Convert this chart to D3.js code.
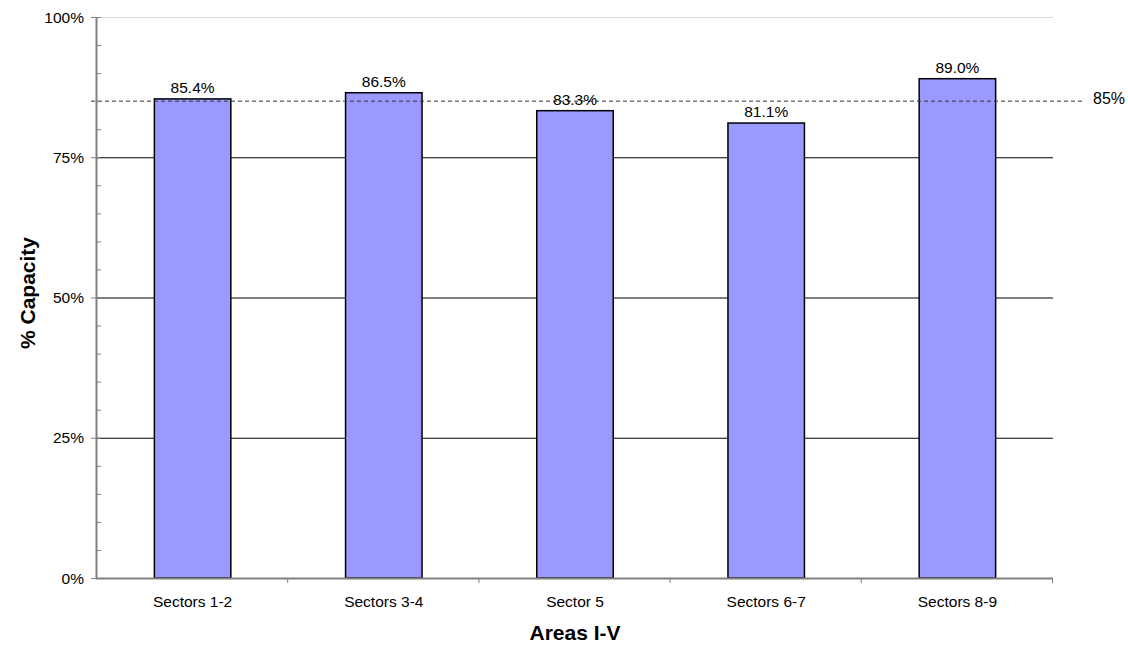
<!DOCTYPE html>
<html>
<head>
<meta charset="utf-8">
<script src="https://cdn.jsdelivr.net/npm/d3@7"></script>
<style>
  html, body { margin: 0; padding: 0; background: #fff; }
  svg { display: block; font-family: "Liberation Sans", Arial, sans-serif; }
</style>
</head>
<body>
<svg id="chart" width="1128" height="646"></svg>
<script>
// Capacity utilisation by sector group
const categories = ["Sectors 1-2", "Sectors 3-4", "Sector 5", "Sectors 6-7", "Sectors 8-9"];
const capacity = [85.4, 86.5, 83.3, 81.1, 89.0];
const majorTicks = [0, 25, 50, 75, 100];
const minorTicks = d3.range(0, 101, 5);
const targetLevel = 85;
const targetLabel = "85%";
const xTitle = "Areas I-V";
const yTitle = "% Capacity";

const svg = d3.select("#chart");
const plot = { left: 97, right: 1053, top: 17, bottom: 578 };
const labelSize = 15.5;
const titleSize = 21;

const x = d3.scaleBand().domain(categories).range([plot.left, plot.right]).paddingInner(0.6).paddingOuter(0.3);
const xBand = d3.scaleBand().domain(categories).range([plot.left, plot.right]);
const y = d3.scaleLinear().domain([0, 100]).range([plot.bottom, plot.top]);

// Horizontal gridlines
svg.append("g").selectAll("line").data(majorTicks.filter(d => d > 0)).join("line")
  .attr("x1", plot.left).attr("x2", plot.right)
  .attr("y1", d => y(d) + 0.5).attr("y2", d => y(d) + 0.5)
  .attr("stroke", d => d === 100 ? "#d9d9d9" : "#000")
  .attr("stroke-width", 1);

// Bars
svg.append("g").selectAll("rect").data(categories).join("rect")
  .attr("x", d => x(d))
  .attr("y", (d, i) => y(capacity[i]))
  .attr("width", x.bandwidth())
  .attr("height", (d, i) => y(0) - y(capacity[i]))
  .attr("fill", "#9999ff")
  .attr("stroke", "#000")
  .attr("stroke-width", 1.5);

// Target reference line
svg.append("line")
  .attr("x1", plot.left - 6).attr("x2", 1083)
  .attr("y1", y(targetLevel)).attr("y2", y(targetLevel))
  .attr("stroke", "#333").attr("stroke-width", 1)
  .attr("stroke-dasharray", "4,3");
svg.append("text")
  .attr("x", 1093).attr("y", y(targetLevel) + 3)
  .attr("font-size", 16).attr("fill", "#000")
  .text(targetLabel);

// Value labels
svg.append("g").selectAll("text").data(categories).join("text")
  .attr("x", d => x(d) + x.bandwidth() / 2)
  .attr("y", (d, i) => y(capacity[i]) - 6)
  .attr("text-anchor", "middle")
  .attr("font-size", labelSize)
  .text((d, i) => capacity[i].toFixed(1) + "%");

// Y axis
const yAxisG = svg.append("g");
yAxisG.append("line")
  .attr("x1", plot.left - 0.5).attr("x2", plot.left - 0.5)
  .attr("y1", plot.top).attr("y2", plot.bottom)
  .attr("stroke", "#808080").attr("stroke-width", 2);
yAxisG.selectAll(".minor").data(minorTicks).join("line")
  .attr("x1", d => majorTicks.includes(d) ? plot.left - 6 : plot.left)
  .attr("x2", plot.left + 4)
  .attr("y1", d => y(d) + 0.5).attr("y2", d => y(d) + 0.5)
  .attr("stroke", "#808080").attr("stroke-width", 1);
yAxisG.selectAll("text").data(majorTicks).join("text")
  .attr("x", plot.left - 13).attr("y", d => y(d) + 5.5)
  .attr("text-anchor", "end").attr("font-size", labelSize)
  .text(d => d + "%");

// X axis
const xAxisG = svg.append("g");
xAxisG.append("line")
  .attr("x1", plot.left - 1).attr("x2", plot.right)
  .attr("y1", plot.bottom + 0.5).attr("y2", plot.bottom + 0.5)
  .attr("stroke", "#808080").attr("stroke-width", 2);
xAxisG.selectAll(".tick").data(categories.slice(1).concat([null])).join("line")
  .attr("x1", d => d === null ? plot.right - 0.5 : xBand(d) - 0.5)
  .attr("x2", d => d === null ? plot.right - 0.5 : xBand(d) - 0.5)
  .attr("y1", plot.bottom).attr("y2", plot.bottom + 5)
  .attr("stroke", "#808080").attr("stroke-width", 1);
xAxisG.selectAll("text").data(categories).join("text")
  .attr("x", d => xBand(d) + xBand.bandwidth() / 2)
  .attr("y", 607)
  .attr("text-anchor", "middle").attr("font-size", labelSize)
  .text(d => d);

// Axis titles
svg.append("text")
  .attr("x", (plot.left + plot.right) / 2).attr("y", 640)
  .attr("text-anchor", "middle").attr("font-size", titleSize).attr("font-weight", "bold")
  .text(xTitle);
svg.append("text")
  .attr("transform", `translate(35, 293) rotate(-90)`)
  .attr("text-anchor", "middle").attr("font-size", titleSize).attr("font-weight", "bold")
  .text(yTitle);
</script>
</body>
</html>
